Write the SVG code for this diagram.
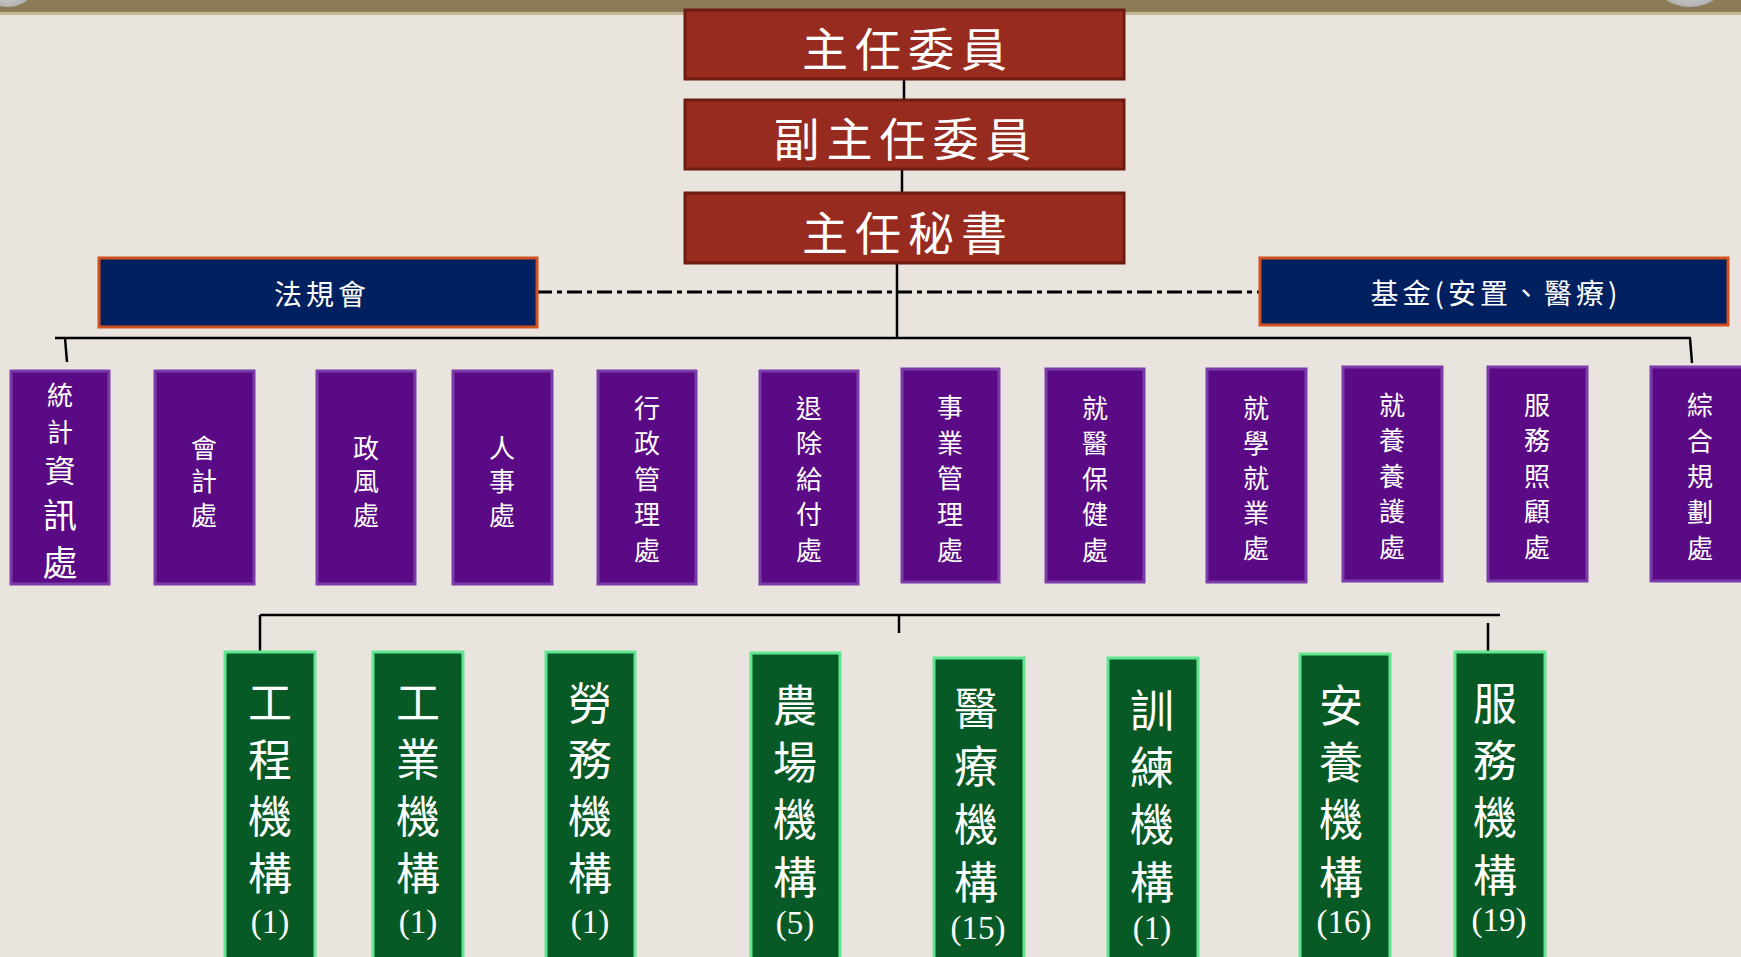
<svg xmlns="http://www.w3.org/2000/svg" width="1741" height="957" viewBox="0 0 1741 957">
<defs>
<radialGradient id="gball" cx="50%" cy="60%" r="60%">
<stop offset="0" stop-color="#e6e6e6"/>
<stop offset="1" stop-color="#9a9a9a"/>
</radialGradient>
</defs>
<style>
.red{fill:#982B1F;stroke:#6E1C12;stroke-width:3}
.navy{fill:#00205F;stroke:#D2501E;stroke-width:3}
.pur{fill:#5B0A85;stroke:#7A3CA8;stroke-width:3}
.grn{fill:#075A25;stroke:#60E890;stroke-width:3}
.ln{stroke:#000;stroke-width:2.5;fill:none}
text{fill:#fff;font-family:"Noto Sans CJK TC","Noto Sans CJK SC",sans-serif;text-anchor:middle;dominant-baseline:central}
.v{writing-mode:vertical-rl;text-anchor:start}
.t1{font-size:46px;letter-spacing:7px}
.t2{font-size:28px;letter-spacing:4px}
.tp{font-size:26px}
.tg{font-size:44px}
.num{font-family:"Liberation Serif","Noto Sans CJK TC",serif;font-size:33px}
</style>
<rect x="0" y="0" width="1741" height="957" fill="#E9E5DE"/>
<rect x="0" y="0" width="1741" height="12" fill="#8C7B57"/>
<rect x="0" y="12" width="1741" height="3" fill="#C4B898"/>
<ellipse cx="8" cy="-22" rx="30" ry="29" fill="url(#gball)"/>
<ellipse cx="1690" cy="-28" rx="40" ry="35" fill="url(#gball)"/>

<g id="connectors">
<line class="ln" x1="904" y1="79" x2="904" y2="100"/>
<line class="ln" x1="902" y1="169" x2="902" y2="193"/>
<line class="ln" x1="897" y1="263" x2="897" y2="338"/>
<line x1="537" y1="292" x2="1260" y2="292" stroke="#000" stroke-width="3" stroke-dasharray="15 5 5 5"/>
<line class="ln" x1="55" y1="338" x2="1691" y2="338" stroke-width="3"/>
<line class="ln" x1="65" y1="338" x2="67" y2="362"/>
<line class="ln" x1="1690" y1="338" x2="1692" y2="363"/>
<line class="ln" x1="260" y1="615" x2="1500" y2="615"/>
<line class="ln" x1="260" y1="615" x2="260" y2="652"/>
<line class="ln" x1="899" y1="614" x2="899" y2="633"/>
<line class="ln" x1="1488" y1="623" x2="1488" y2="660"/>
</g>

<g id="n-chair"><rect class="red" x="685" y="10" width="439" height="69"/><text class="t1" x="908" y="46">主任委員</text></g>
<g id="n-vice"><rect class="red" x="685" y="100" width="439" height="69"/><text class="t1" x="906" y="136">副主任委員</text></g>
<g id="n-sec"><rect class="red" x="685" y="193" width="439" height="70"/><text class="t1" x="908" y="230">主任秘書</text></g>
<g id="n-law"><rect class="navy" x="99" y="258" width="438" height="69"/><text class="t2" x="322" y="293">法規會</text></g>
<g id="n-fund"><rect class="navy" x="1260" y="258" width="468" height="67"/><text class="t2" x="1496" y="292">基金(安置、醫療)</text></g>

<g id="p1"><rect class="pur" x="11" y="371" width="98" height="213"/>
<text class="v"><tspan x="60" y="382" style="font-size:26px">統</tspan><tspan x="60" y="419" style="font-size:26px">計</tspan><tspan x="60" y="454.5" style="font-size:31px">資</tspan><tspan x="60" y="498" style="font-size:34px">訊</tspan><tspan x="60" y="545.5" style="font-size:35px">處</tspan></text></g>
<g id="p2"><rect class="pur" x="155" y="371" width="99" height="213"/>
<text class="v tp" x="204" y="435" style="letter-spacing:7.5px">會計處</text></g>
<g id="p3"><rect class="pur" x="317" y="371" width="98" height="213"/>
<text class="v tp" x="366" y="435" style="letter-spacing:7.5px">政風處</text></g>
<g id="p4"><rect class="pur" x="453" y="371" width="99" height="213"/>
<text class="v tp" x="502" y="435" style="letter-spacing:7.5px">人事處</text></g>
<g id="p5"><rect class="pur" x="598" y="371" width="98" height="213"/>
<text class="v tp" x="647" y="395" style="letter-spacing:9.5px">行政管理處</text></g>
<g id="p6"><rect class="pur" x="760" y="371" width="98" height="213"/>
<text class="v tp" x="809" y="395" style="letter-spacing:9.5px">退除給付處</text></g>
<g id="p7"><rect class="pur" x="902" y="369" width="97" height="213"/>
<text class="v tp" x="950" y="394" style="letter-spacing:9.75px">事業管理處</text></g>
<g id="p8"><rect class="pur" x="1046" y="369" width="98" height="213"/>
<text class="v tp" x="1095" y="395" style="letter-spacing:9.5px">就醫保健處</text></g>
<g id="p9"><rect class="pur" x="1207" y="369" width="99" height="213"/>
<text class="v tp" x="1256" y="395" style="letter-spacing:9px">就學就業處</text></g>
<g id="p10"><rect class="pur" x="1343" y="367" width="99" height="214"/>
<text class="v tp" x="1392" y="392" style="letter-spacing:9.5px">就養養護處</text></g>
<g id="p11"><rect class="pur" x="1488" y="367" width="99" height="214"/>
<text class="v tp" x="1537" y="392" style="letter-spacing:9.5px">服務照顧處</text></g>
<g id="p12"><rect class="pur" x="1651" y="367" width="98" height="214"/>
<text class="v tp" x="1700" y="392" style="letter-spacing:9.75px">綜合規劃處</text></g>

<g id="g1"><rect class="grn" x="225" y="652" width="90" height="320"/>
<text class="v tg" x="270" y="680" style="letter-spacing:13px">工程機構</text><text class="num" x="270" y="922">(1)</text></g>
<g id="g2"><rect class="grn" x="373" y="652" width="90" height="320"/>
<text class="v tg" x="418" y="680" style="letter-spacing:13px">工業機構</text><text class="num" x="418" y="922">(1)</text></g>
<g id="g3"><rect class="grn" x="546" y="652" width="89" height="320"/>
<text class="v tg" x="590" y="681" style="letter-spacing:12.7px">勞務機構</text><text class="num" x="590" y="922">(1)</text></g>
<g id="g4"><rect class="grn" x="751" y="653" width="89" height="320"/>
<text class="v tg" x="795" y="683" style="letter-spacing:13.3px">農場機構</text><text class="num" x="795" y="923">(5)</text></g>
<g id="g5"><rect class="grn" x="934" y="658" width="90" height="320"/>
<text class="v tg" x="976" y="686" style="letter-spacing:14px">醫療機構</text><text class="num" x="978" y="928">(15)</text></g>
<g id="g6"><rect class="grn" x="1108" y="658" width="90" height="320"/>
<text class="v tg" x="1152" y="688" style="letter-spacing:13.3px">訓練機構</text><text class="num" x="1152" y="928">(1)</text></g>
<g id="g7"><rect class="grn" x="1300" y="654" width="90" height="320"/>
<text class="v tg" x="1341" y="683" style="letter-spacing:13.3px">安養機構</text><text class="num" x="1344" y="922">(16)</text></g>
<g id="g8"><rect class="grn" x="1455" y="652" width="90" height="320"/>
<text class="v tg" x="1495" y="681" style="letter-spacing:13.3px">服務機構</text><text class="num" x="1499" y="920">(19)</text></g>
</svg>
